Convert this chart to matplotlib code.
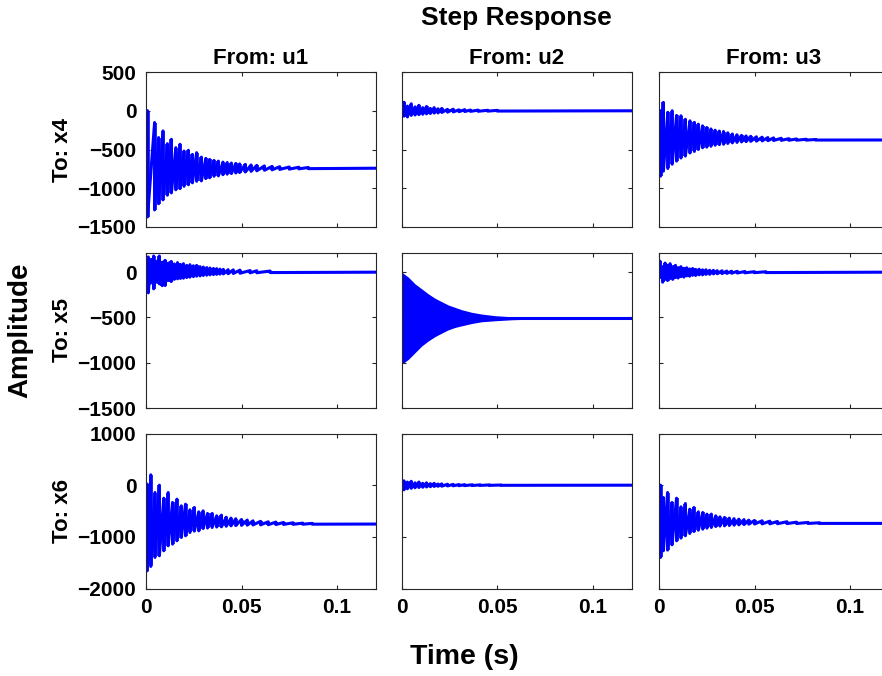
import numpy as np
import matplotlib.pyplot as plt

plt.rcParams['font.family'] = ['Liberation Sans', 'DejaVu Sans']
plt.rcParams['font.weight'] = 'bold'

# Step response peaks: for every burst, time [s], upper and lower extreme
# To: x4
x4_u1_t = [0.0008, 0.0045, 0.0066, 0.0089, 0.0112, 0.0133, 0.0156, 0.0178, 0.0199, 0.0222,
           0.0243, 0.0265, 0.0290, 0.0313, 0.0333, 0.0356, 0.0379, 0.0403, 0.0425, 0.0447,
           0.0470, 0.0490, 0.0520, 0.0550, 0.0580, 0.0620, 0.0660, 0.0700, 0.0750, 0.0800, 0.0850]
x4_u1_top = [0, -152, -346, -260, -425, -368, -476, -433, -520, -510,
             -563, -541, -598, -615, -628, -641, -650, -663, -668, -675,
             -680, -686, -692, -700, -705, -712, -718, -722, -726, -729, -732]
x4_u1_bot = [-1370, -1280, -1200, -1150, -1090, -1060, -1020, -1005, -975, -955,
             -930, -910, -905, -875, -865, -845, -840, -825, -818, -810,
             -803, -797, -790, -782, -775, -768, -762, -757, -753, -750, -747]
x4_u1_final = -740

x4_u2_t = [0.0005, 0.0012, 0.0030, 0.0050, 0.0070, 0.0090, 0.0110, 0.0130, 0.0150, 0.0170,
           0.0190, 0.0210, 0.0240, 0.0270, 0.0300, 0.0330, 0.0360, 0.0400, 0.0450, 0.0500]
x4_u2_top = [0, 110, 60, 90, 50, 70, 40, 55, 30, 40, 25, 30, 18, 20, 12, 14, 9, 8, 6, 5]
x4_u2_bot = [-40, -70, -80, -60, -55, -50, -45, -40, -35, -30, -28, -22, -18, -15, -12, -10, -8, -7, -5, -4]
x4_u2_final = 0

x4_u3_t = [0.0008, 0.0023, 0.0046, 0.0069, 0.0092, 0.0115, 0.0138, 0.0162, 0.0185, 0.0206,
           0.0228, 0.0250, 0.0272, 0.0294, 0.0316, 0.0338, 0.0360, 0.0384, 0.0408, 0.0432,
           0.0456, 0.0480, 0.0510, 0.0540, 0.0570, 0.0600, 0.0640, 0.0680, 0.0720, 0.0770, 0.0820]
x4_u3_top = [0, 108, -20, 0, -60, -65, -110, -130, -150, -173, -195, -216, -235, -251, -262, -268,
             -285, -300, -310, -318, -325, -330, -336, -341, -346, -350, -355, -360, -364, -368, -371]
x4_u3_bot = [-844, -780, -745, -690, -650, -610, -585, -545, -525, -500, -478, -470, -458, -445, -437,
             -432, -422, -414, -408, -402, -398, -395, -392, -389, -386, -384, -382, -381, -380, -379, -378]
x4_u3_final = -377

# To: x5
x5_u1_t = [0.0005, 0.0012, 0.0025, 0.0040, 0.0055, 0.0070, 0.0085, 0.0100, 0.0117, 0.0132,
           0.0148, 0.0165, 0.0180, 0.0196, 0.0213, 0.0230, 0.0248, 0.0265, 0.0283, 0.0300,
           0.0318, 0.0335, 0.0353, 0.0370, 0.0387, 0.0405, 0.0430, 0.0457, 0.0492, 0.0545, 0.0580, 0.0650]
x5_u1_top = [0, 167, 140, 178, 120, 178, 110, 130, 100, 118, 90, 105, 85, 93, 75, 82,
             70, 74, 60, 56, 50, 45, 40, 38, 33, 30, 27, 25, 22, 17, 15, 12]
x5_u1_bot = [-150, -229, -120, -185, -110, -130, -150, -148, -93, -104, -80, -74, -70, -67, -60, -56,
             -50, -45, -42, -37, -34, -30, -27, -25, -22, -20, -18, -15, -12, -8, -7, -5]
x5_u1_final = 0

# u2 -> x5 rings too fast to resolve: upper / lower envelope of the trace
x5_u2_t = [0.0000, 0.0035, 0.0070, 0.0105, 0.0140, 0.0175, 0.0209, 0.0244, 0.0279, 0.0314,
           0.0367, 0.0419, 0.0489, 0.0576, 0.0698, 0.0838, 0.1000, 0.1250]
x5_u2_upper = [0, -56, -130, -185, -241, -289, -326, -363, -389, -415,
               -444, -463, -481, -493, -500, -504, -507, -508]
x5_u2_lower = [-1018, -963, -889, -815, -759, -711, -674, -637, -611, -593,
               -567, -548, -537, -526, -518, -515, -514, -514]
x5_u2_final = -512

x5_u3_t = [0.0005, 0.0019, 0.0032, 0.0045, 0.0058, 0.0072, 0.0086, 0.0100, 0.0115, 0.0130,
           0.0145, 0.0160, 0.0176, 0.0192, 0.0210, 0.0228, 0.0246, 0.0265, 0.0285, 0.0305,
           0.0330, 0.0355, 0.0380, 0.0410, 0.0450, 0.0500, 0.0560]
x5_u3_top = [122, 60, 100, 75, 93, 60, 75, 50, 60, 42, 48, 35, 40, 30, 32, 25, 26, 20, 20, 16,
             15, 12, 10, 9, 7, 5, 4]
x5_u3_bot = [-60, -111, -80, -93, -70, -80, -60, -65, -50, -55, -42, -45, -35, -37, -30, -30,
             -25, -24, -20, -18, -16, -14, -12, -10, -8, -6, -5]
x5_u3_final = 0

# To: x6
x6_u1_t = [0.0006, 0.0025, 0.0047, 0.0070, 0.0093, 0.0116, 0.0139, 0.0162, 0.0185, 0.0207,
           0.0230, 0.0253, 0.0276, 0.0299, 0.0322, 0.0346, 0.0370, 0.0395, 0.0420, 0.0445,
           0.0470, 0.0500, 0.0530, 0.0560, 0.0600, 0.0640, 0.0680, 0.0720, 0.0770, 0.0820, 0.0870]
x6_u1_top = [20, 200, -142, 0, -252, -142, -335, -271, -400, -368, -477, -432, -516, -497, -548,
             -548, -593, -580, -620, -638, -650, -665, -675, -690, -700, -709, -715, -722, -728, -735, -740]
x6_u1_bot = [-1658, -1573, -1399, -1367, -1270, -1174, -1141, -1077, -1013, -980, -916, -890, -884,
             -839, -830, -819, -810, -806, -795, -787, -782, -778, -774, -770, -768, -765, -762,
             -760, -758, -756, -755]
x6_u1_final = -752

x6_u2_t = [0.0005, 0.0012, 0.0030, 0.0050, 0.0070, 0.0090, 0.0110, 0.0130, 0.0150, 0.0170,
           0.0190, 0.0210, 0.0240, 0.0270, 0.0300, 0.0330, 0.0370, 0.0410, 0.0460, 0.0520]
x6_u2_top = [0, 84, 60, 75, 45, 60, 35, 45, 30, 35, 22, 25, 18, 15, 12, 10, 8, 6, 5, 3]
x6_u2_bot = [-50, -90, -70, -60, -50, -45, -40, -35, -30, -25, -22, -20, -15, -13, -10, -9, -7, -5, -4, -3]
x6_u2_final = 0

x6_u3_t = [0.0008, 0.0023, 0.0045, 0.0068, 0.0092, 0.0115, 0.0138, 0.0161, 0.0183, 0.0206,
           0.0229, 0.0251, 0.0274, 0.0297, 0.0319, 0.0343, 0.0368, 0.0393, 0.0418, 0.0445,
           0.0470, 0.0500, 0.0540, 0.0580, 0.0620, 0.0670, 0.0720, 0.0780, 0.0840]
x6_u3_top = [0, -239, -142, -335, -252, -419, -355, -464, -432, -516, -529, -561, -560, -593, -613,
             -625, -638, -648, -658, -667, -677, -683, -690, -697, -703, -708, -716, -722, -728]
x6_u3_bot = [-1399, -1270, -1257, -1154, -1077, -1025, -980, -935, -897, -871, -851, -832, -819,
             -800, -792, -787, -780, -774, -768, -763, -755, -752, -750, -748, -746, -744, -742, -741, -740]
x6_u3_final = -740

inputs = ['u1', 'u2', 'u3']
outputs = ['x4', 'x5', 'x6']
row_ylim = [(-1500, 500), (-1500, 211), (-2000, 1000)]
row_yticks = [[-1500, -1000, -500, 0, 500], [-1500, -1000, -500, 0], [-2000, -1000, 0, 1000]]
xticks = [0, 0.05, 0.1]
xtick_labels = ['0', '0.05', '0.1']
t_end = 0.1204

bursts = {
    ('x4', 'u1'): (x4_u1_t, x4_u1_top, x4_u1_bot, x4_u1_final),
    ('x4', 'u2'): (x4_u2_t, x4_u2_top, x4_u2_bot, x4_u2_final),
    ('x4', 'u3'): (x4_u3_t, x4_u3_top, x4_u3_bot, x4_u3_final),
    ('x5', 'u1'): (x5_u1_t, x5_u1_top, x5_u1_bot, x5_u1_final),
    ('x5', 'u3'): (x5_u3_t, x5_u3_top, x5_u3_bot, x5_u3_final),
    ('x6', 'u1'): (x6_u1_t, x6_u1_top, x6_u1_bot, x6_u1_final),
    ('x6', 'u2'): (x6_u2_t, x6_u2_top, x6_u2_bot, x6_u2_final),
    ('x6', 'u3'): (x6_u3_t, x6_u3_top, x6_u3_bot, x6_u3_final),
}

W, H = 882, 676
fig = plt.figure(figsize=(W / 100, H / 100), dpi=100)

col_left = [146, 401.7, 659]
row_top = [72, 253, 433.5]
ax_w, ax_h = 230, 155
edge = '#262626'

for r, out in enumerate(outputs):
    for c, inp in enumerate(inputs):
        ax = fig.add_axes([col_left[c] / W, 1 - (row_top[r] + ax_h) / H, ax_w / W, ax_h / H])
        if (out, inp) in bursts:
            t, top, bot, final = bursts[(out, inp)]
            # thick strokes for the bursts, the trace linking them into the settled value
            ax.vlines(t, bot, top, color='b', lw=2.6)
            x = np.concatenate([[0], np.repeat(t, 2), [0.13]])
            y = np.concatenate([[0], np.column_stack([top, bot]).ravel(), [final]])
            ax.plot(x, y, color='b', lw=2.2)
        else:
            ax.fill_between(x5_u2_t, x5_u2_lower, x5_u2_upper, color='b', lw=0)
            ax.plot([0, 0.13], [x5_u2_final, x5_u2_final], color='b', lw=2.2)

        ax.set_xlim(0, t_end)
        ax.set_ylim(*row_ylim[r])
        ax.set_xticks(xticks)
        ax.set_yticks(row_yticks[r])
        ax.tick_params(direction='in', top=True, right=True, length=3, width=0.8,
                       colors=edge, labelcolor='black', labelsize=15, pad=7)
        for s in ax.spines.values():
            s.set_color(edge)
            s.set_linewidth(0.8)
        if c == 0:
            ax.set_yticklabels([f'{v}'.replace('-', '\u2212') for v in row_yticks[r]],
                               fontweight='bold')
            fig.text(62 / W, 1 - (row_top[r] + ax_h / 2) / H, f'To: {out}', rotation=90,
                     ha='center', va='center', fontsize=16, fontweight='bold')
        else:
            ax.set_yticklabels([])
        if r == 2:
            ax.set_xticklabels(xtick_labels, fontweight='bold')
        else:
            ax.set_xticklabels([])
        if r == 0:
            ax.set_title(f'From: {inp}', fontsize=16, fontweight='bold', pad=6)

fig.text(516 / W, 1 - 18 / H, 'Step Response', ha='center', va='center',
         fontsize=19, fontweight='bold')
fig.text(20 / W, 1 - 330 / H, 'Amplitude', rotation=90, ha='center', va='center',
         fontsize=20, fontweight='bold')
fig.text(464 / W, 1 - 657 / H, 'Time (s)', ha='center', va='center',
         fontsize=20.5, fontweight='bold')

fig.savefig('out.png', dpi=100)
